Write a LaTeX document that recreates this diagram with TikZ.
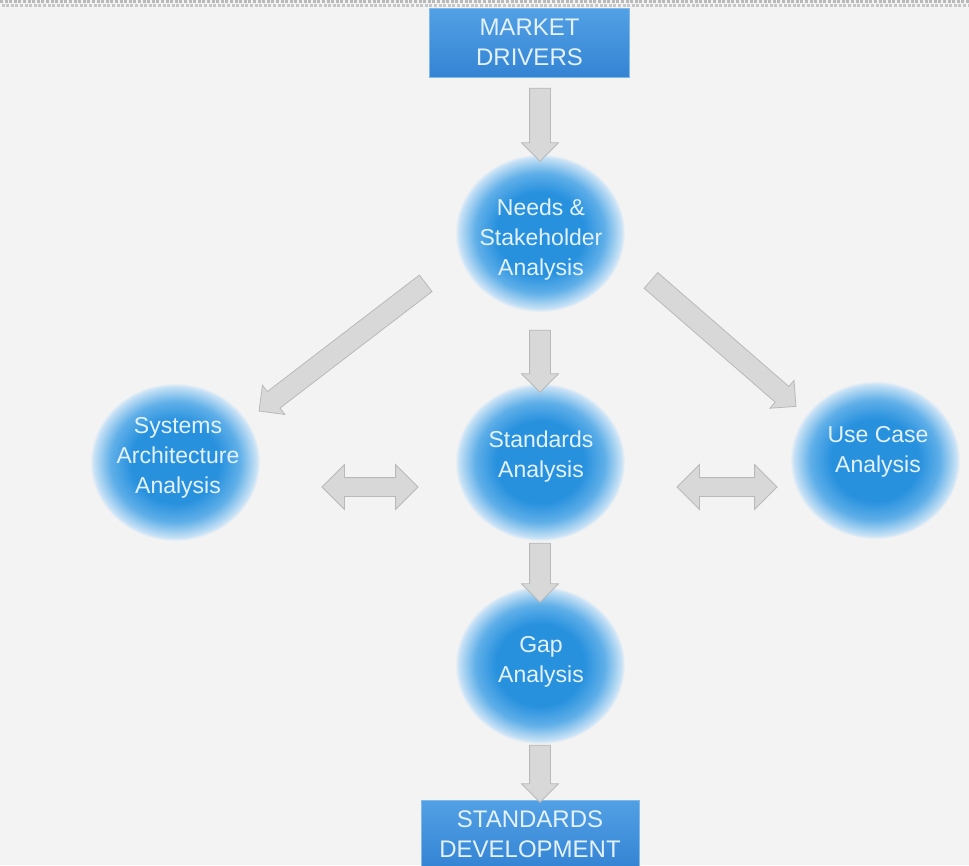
\documentclass[tikz,border=0pt]{standalone}
\usepackage{fontspec}
\setmainfont{Liberation Sans}
\usetikzlibrary{shapes.arrows,shapes.geometric}
\definecolor{bg}{RGB}{243,243,243}
\definecolor{bcore}{RGB}{40,145,222}
\definecolor{bmid}{RGB}{95,175,232}
\definecolor{bedge}{RGB}{200,226,246}
\definecolor{bout}{RGB}{243,243,243}
\definecolor{afill}{RGB}{216,216,216}
\definecolor{aline}{RGB}{185,185,185}
\definecolor{boxtop}{RGB}{82,160,228}
\definecolor{boxbot}{RGB}{52,132,212}
\definecolor{boxline}{RGB}{130,185,235}
\definecolor{txtl}{RGB}{228,242,255}
\pgfdeclareradialshading{bubble}{\pgfpoint{0bp}{0bp}}{color(0bp)=(bcore); color(13bp)=(bcore); color(19bp)=(bmid); color(24bp)=(bedge); color(25bp)=(bout); color(50bp)=(bout)}
\tikzset{
  bubblenode/.style={ellipse, minimum width=170pt, minimum height=158pt, inner sep=0pt,
     shading=bubble, text=txtl, font=\fontsize{23}{30}\selectfont, align=center},
  bubbletext/.style={text=txtl, font=\fontsize{23}{30}\selectfont, align=center},
  boxnode/.style={rectangle, top color=boxtop, bottom color=boxbot, draw=boxline, line width=0.8pt,
     text=txtl, font=\fontsize{24}{30}\selectfont, align=center, inner sep=0pt},
  fatarrow/.style={single arrow, draw=aline, fill=afill, line width=0.8pt, inner xsep=0pt, inner ysep=10pt,
     minimum width=0pt, single arrow head extend=8pt, allow upside down, sloped, midway},
  twinarrow/.style={double arrow, draw=aline, fill=afill, line width=0.8pt, inner xsep=0pt, inner ysep=9pt,
     minimum width=0pt, double arrow head extend=13pt, allow upside down, sloped, midway},
}
\begin{document}
\begin{tikzpicture}[x=1pt,y=-1pt]
\useasboundingbox (0,0) rectangle (969,865);
\fill[bg] (0,0) rectangle (969,865);
% top dotted strip
\draw[gray!55, line width=2.4pt, dash pattern=on 3pt off 1.6pt] (0,1.6) -- (969,1.6);
\draw[gray!45, line width=2.4pt, dash pattern=on 3pt off 1.6pt] (1.5,5.4) -- (969,5.4);

% boxes
\node[boxnode, minimum width=200pt, minimum height=69pt] (md) at (529.5,42.5) {MARKET\\DRIVERS};
\node[boxnode, minimum width=218pt, minimum height=68pt] (sd) at (530,834) {STANDARDS\\DEVELOPMENT};

% bubbles
\node[bubblenode] (needs) at (540,233) {};
\node[bubbletext] (needst) at (541,240) {Needs \&\\Stakeholder\\Analysis};
\node[bubblenode] (std) at (540,462) {};
\node[bubbletext] (stdt) at (541,457) {Standards\\Analysis};
\node[bubblenode] (sys) at (175,462) {};
\node[bubbletext] (syst) at (178,458) {Systems\\Architecture\\Analysis};
\node[bubblenode] (uc) at (875,460) {};
\node[bubbletext] (uct) at (878,452) {Use Case\\Analysis};
\node[bubblenode] (gap) at (540,665) {};
\node[bubbletext] (gapt) at (541,662) {Gap\\Analysis};

% arrow end points
\coordinate (a1s) at (540,83);  \coordinate (a1e) at (540,156);
\coordinate (a2s) at (430,280); \coordinate (a2e) at (263,408);
\coordinate (a3s) at (540,325); \coordinate (a3e) at (540,387);
\coordinate (a4s) at (647,277); \coordinate (a4e) at (792,403);
\coordinate (a5s) at (540,538); \coordinate (a5e) at (540,597);
\coordinate (a6s) at (540,740); \coordinate (a6e) at (540,797);
\coordinate (d1s) at (322,487); \coordinate (d1e) at (418,487);
\coordinate (d2s) at (677,487); \coordinate (d2e) at (777,487);

\path (a1s) -- (a1e) node[fatarrow, minimum height=73pt] (ar1) {};
\path (a2s) -- (a2e) node[fatarrow, minimum height=210pt] (ar2) {};
\path (a3s) -- (a3e) node[fatarrow, minimum height=62pt] (ar3) {};
\path (a4s) -- (a4e) node[fatarrow, minimum height=192pt] (ar4) {};
\path (a5s) -- (a5e) node[fatarrow, minimum height=59pt] (ar5) {};
\path (a6s) -- (a6e) node[fatarrow, minimum height=57pt] (ar6) {};
\path (d1s) -- (d1e) node[twinarrow, minimum height=96pt] (dr1) {};
\path (d2s) -- (d2e) node[twinarrow, minimum height=100pt] (dr2) {};
\end{tikzpicture}
\end{document}
